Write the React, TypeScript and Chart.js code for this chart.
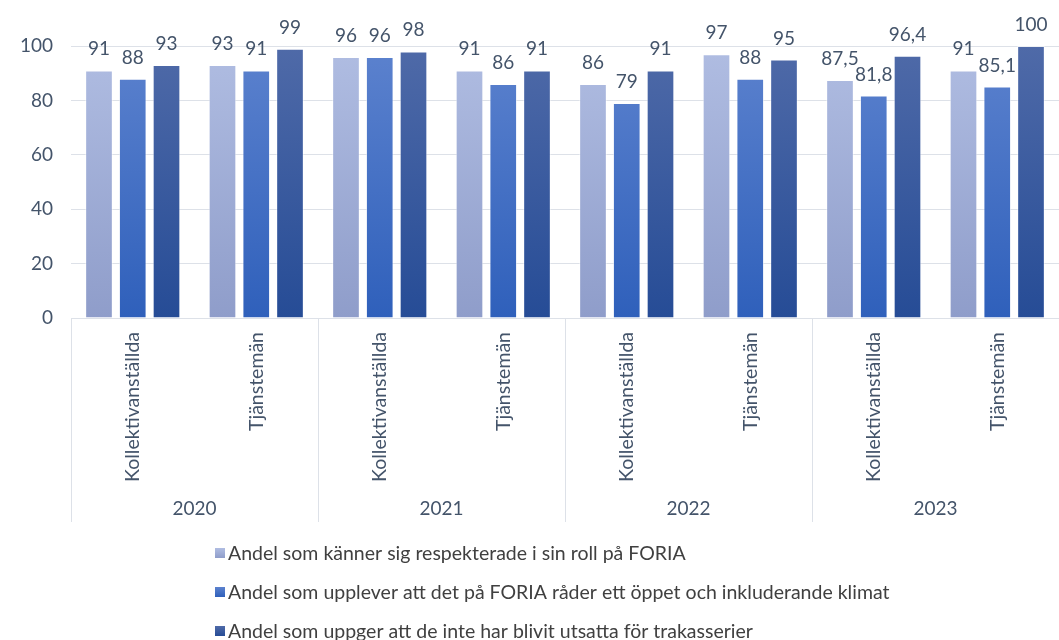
import React, { useEffect, useRef } from "react";
import { Chart, registerables } from "chart.js";

Chart.register(...registerables);

const years = ["2020", "2021", "2022", "2023"];
const groups = ["Kollektivanställda", "Tjänstemän"];
const categories = ["2020 Kollektivanställda", "2020 Tjänstemän", "2021 Kollektivanställda", "2021 Tjänstemän", "2022 Kollektivanställda", "2022 Tjänstemän", "2023 Kollektivanställda", "2023 Tjänstemän"];
const seriesNames = [
  "Andel som känner sig respekterade i sin roll på FORIA",
  "Andel som upplever att det på FORIA råder ett öppet och inkluderande klimat",
  "Andel som uppger att de inte har blivit utsatta för trakasserier",
];
const respekterade = [91, 93, 96, 91, 86, 97, 87.5, 91];
const inkluderande = [88, 91, 96, 86, 79, 88, 81.8, 85.1];
const trakasserier = [93, 99, 98, 91, 91, 95, 96.4, 100];
const yTicks = [0, 20, 40, 60, 80, 100];

const gradStops = [
  ["#b0bde2", "#8f9dca"],
  ["#5c82ce", "#2f60bb"],
  ["#4f6aa8", "#264c96"],
];

const FONT = "Lato, 'Open Sans', sans-serif";
const TEXT = "#44546a";
const LEGEND_TEXT = "#404040";
const LINE = "#dde1e8";

export default function App() {
  const ref = useRef<HTMLCanvasElement | null>(null);

  useEffect(() => {
    const canvas = ref.current;
    if (!canvas) return;

    const makeBg = (i: number) => (ctx: any) => {
      const chart = ctx.chart;
      const area = chart.chartArea;
      if (!area) return gradStops[i][0];
      const g = chart.ctx.createLinearGradient(0, area.top, 0, area.bottom);
      g.addColorStop(0, gradStops[i][0]);
      g.addColorStop(1, gradStops[i][1]);
      return g;
    };

    const decor = {
      id: "decor",
      afterDatasetsDraw(chart: any) {
        const ctx = chart.ctx;
        const area = chart.chartArea;
        const xs = chart.scales.x;
        ctx.save();
        // data labels
        ctx.font = `19px ${FONT}`;
        ctx.fillStyle = TEXT;
        ctx.textAlign = "center";
        ctx.textBaseline = "alphabetic";
        chart.data.datasets.forEach((ds: any, di: number) => {
          const meta = chart.getDatasetMeta(di);
          meta.data.forEach((el: any, i: number) => {
            const v = ds.data[i];
            ctx.fillText(String(v).replace(".", ","), el.x, el.y - 15);
          });
        });
        // category labels (rotated)
        ctx.font = `19.5px ${FONT}`;
        const labelTop = area.bottom + 14;
        categories.forEach((_c, i) => {
          const x = xs.getPixelForValue(i);
          ctx.save();
          ctx.translate(x, labelTop);
          ctx.rotate(-Math.PI / 2);
          ctx.textAlign = "right";
          ctx.textBaseline = "middle";
          ctx.fillText(groups[i % 2], 0, 0);
          ctx.restore();
        });
        // year labels and separators
        const catW = (area.right - area.left) / categories.length;
        ctx.strokeStyle = LINE;
        ctx.lineWidth = 1;
        for (let k = 0; k <= years.length; k++) {
          const x = Math.round(area.left + k * 2 * catW) + 0.5;
          ctx.beginPath();
          ctx.moveTo(x, area.bottom);
          ctx.lineTo(x, area.bottom + 204);
          ctx.stroke();
        }
        ctx.font = `19px ${FONT}`;
        ctx.textAlign = "center";
        ctx.textBaseline = "middle";
        years.forEach((y, k) => {
          ctx.fillText(y, area.left + (2 * k + 1) * catW, area.bottom + 191);
        });
        // legend
        ctx.font = `19.5px ${FONT}`;
        ctx.textAlign = "left";
        ctx.textBaseline = "middle";
        seriesNames.forEach((name, i) => {
          const cy = 553 + i * 39;
          const g = ctx.createLinearGradient(0, cy - 5, 0, cy + 5);
          g.addColorStop(0, gradStops[i][0]);
          g.addColorStop(1, gradStops[i][1]);
          ctx.fillStyle = g;
          ctx.fillRect(215, cy - 5, 10, 10);
          ctx.fillStyle = LEGEND_TEXT;
          ctx.fillText(name, 228, cy + 1);
        });
        ctx.restore();
      },
    };

    const chart = new Chart(canvas, {
      type: "bar",
      data: {
        labels: categories,
        datasets: [
          { label: seriesNames[0], data: respekterade, backgroundColor: makeBg(0) },
          { label: seriesNames[1], data: inkluderande, backgroundColor: makeBg(1) },
          { label: seriesNames[2], data: trakasserier, backgroundColor: makeBg(2) },
        ].map((d) => ({
          ...d,
          borderColor: "rgba(255,255,255,0.5)",
          borderWidth: 1,
          categoryPercentage: 0.82,
          barPercentage: 0.82,
        })),
      },
      options: {
        animation: false,
        responsive: false,
        maintainAspectRatio: false,
        layout: { padding: { top: 46, left: 0, right: 0, bottom: 322 } },
        plugins: {
          legend: { display: false },
          tooltip: { enabled: false },
          title: { display: false },
        },
        scales: {
          x: {
            ticks: { display: false },
            grid: { display: false },
            border: { display: true, color: LINE, width: 1 },
            afterFit(scale: any) {
              scale.height = 0;
            },
          },
          y: {
            min: 0,
            max: 100,
            afterBuildTicks(scale: any) {
              scale.ticks = yTicks.map((v) => ({ value: v }));
            },
            ticks: {
              color: TEXT,
              font: { family: FONT, size: 19 },
              padding: 18,
            },
            grid: { color: LINE, lineWidth: 1, drawTicks: false },
            border: { display: false },
            afterFit(scale: any) {
              scale.width = 71;
            },
          },
        },
      },
      plugins: [decor],
    });
    return () => chart.destroy();
  }, []);

  return (
    <div style={{ position: "absolute", left: 0, top: 0, width: 1059, height: 640, background: "#fff" }}>
      <canvas ref={ref} width={1059} height={640} style={{ width: 1059, height: 640, display: "block" }} />
    </div>
  );
}
